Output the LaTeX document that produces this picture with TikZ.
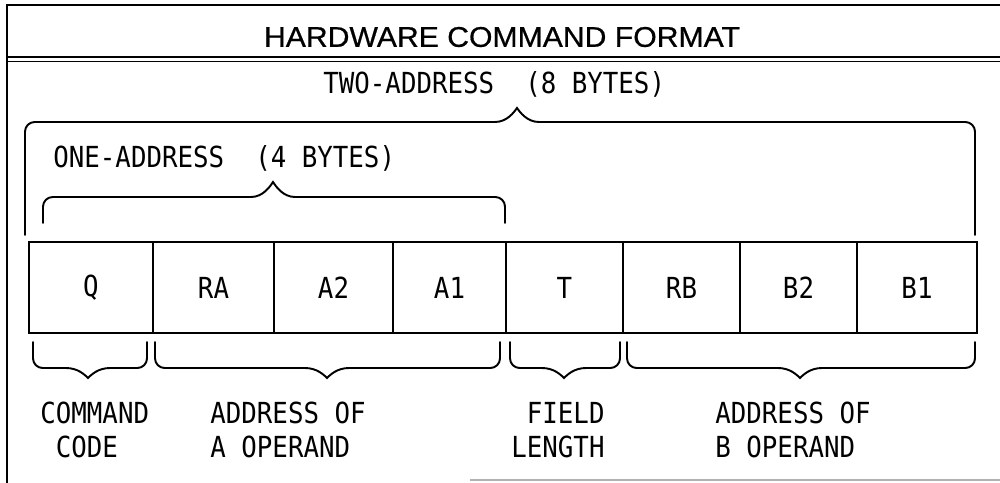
\documentclass[tikz,border=0pt]{standalone}
\usepackage{fontspec}
\newfontfamily\lettering[FakeStretch=0.89]{DejaVu Sans Mono}
\newfontfamily\titlefont[FakeStretch=1.06, FakeBold=0.6]{Liberation Sans}
\newcommand\fieldbrace[6]{%
    \draw[bracearm] (#1,#4) -- (#1,#5) -- ({#3-22},#5);
    \draw[bracearm] ({#3+22},#5) -- (#2,#5) -- (#2,#4);
    \draw[bracetip] ({#3-22},#5) .. controls ({#3-10},#5) and ({#3-3},{0.3*#5+0.7*#6}) .. (#3,#6)
        .. controls ({#3+3},{0.3*#5+0.7*#6}) and ({#3+10},#5) .. ({#3+22},#5);}

\begin{document}
\begin{tikzpicture}[
    x=0.02cm, y=-0.02cm,
    frame/.style={line width=1.1pt},
    rule/.style={line width=0.85pt},
    cell/.style={draw, line width=1.1pt, minimum height=1.82cm, inner sep=0pt, font=\lettering\fontsize{16.5pt}{19pt}\selectfont},
    bracearm/.style={line width=1.1pt, rounded corners=5.5pt, line cap=round},
    bracetip/.style={line width=1.1pt, line cap=round},
    fieldtext/.style={inner sep=0pt, align=left, font=\lettering\fontsize{16.5pt}{19.3pt}\selectfont}
]
    \useasboundingbox (0,0) rectangle (1000,483);
    \draw[frame] (7,483) -- (7,5) -- (1000,5);
    \draw[rule] (7,57) -- (1000,57);
    \draw[rule] (7,61.5) -- (1000,61.5);
    \draw[gray!60, line width=0.6pt] (470,480) -- (1000,480);

    \node[inner sep=0pt, font=\titlefont\fontsize{16.2pt}{19pt}\selectfont] (title) at (502,37) {HARDWARE COMMAND FORMAT};

    \node[fieldtext, anchor=base west] (twoaddr) at (323,93) {TWO-ADDRESS~~(8 BYTES)};
    \node[fieldtext, anchor=base west] (oneaddr) at (53,167) {ONE-ADDRESS~~(4 BYTES)};

    \foreach \l/\r/\txt/\nm in {29/153/Q/q, 153/274/RA/ra, 274/393/A2/a2, 393/506/A1/a1,
            506/623/T/t, 623/740/RB/rb, 740/857/B2/b2, 857/977/B1/b1}
        \node[cell, minimum width={(\r-\l)*0.02cm}] (\nm) at ({(\l+\r)/2},287.5) {\txt};

    \fieldbrace{25}{975}{517}{235}{122}{108}
    \fieldbrace{43}{505}{273}{223}{197}{182}
    \fieldbrace{33}{147}{88}{342}{368}{378}
    \fieldbrace{155}{500}{327}{342}{368}{378}
    \fieldbrace{510}{620}{564}{342}{368}{378}
    \fieldbrace{627}{975}{800}{342}{368}{378}

    \node[fieldtext, anchor=north west] (cmdcode) at (40,402) {COMMAND\\\hphantom{C}CODE};
    \node[fieldtext, anchor=north west] (aoperand) at (210,402) {ADDRESS OF\\A OPERAND};
    \node[fieldtext, anchor=north west] (fieldlen) at (511,402) {\hphantom{L}FIELD\\LENGTH};
    \node[fieldtext, anchor=north west] (boperand) at (715,402) {ADDRESS OF\\B OPERAND};
\end{tikzpicture}
\end{document}
